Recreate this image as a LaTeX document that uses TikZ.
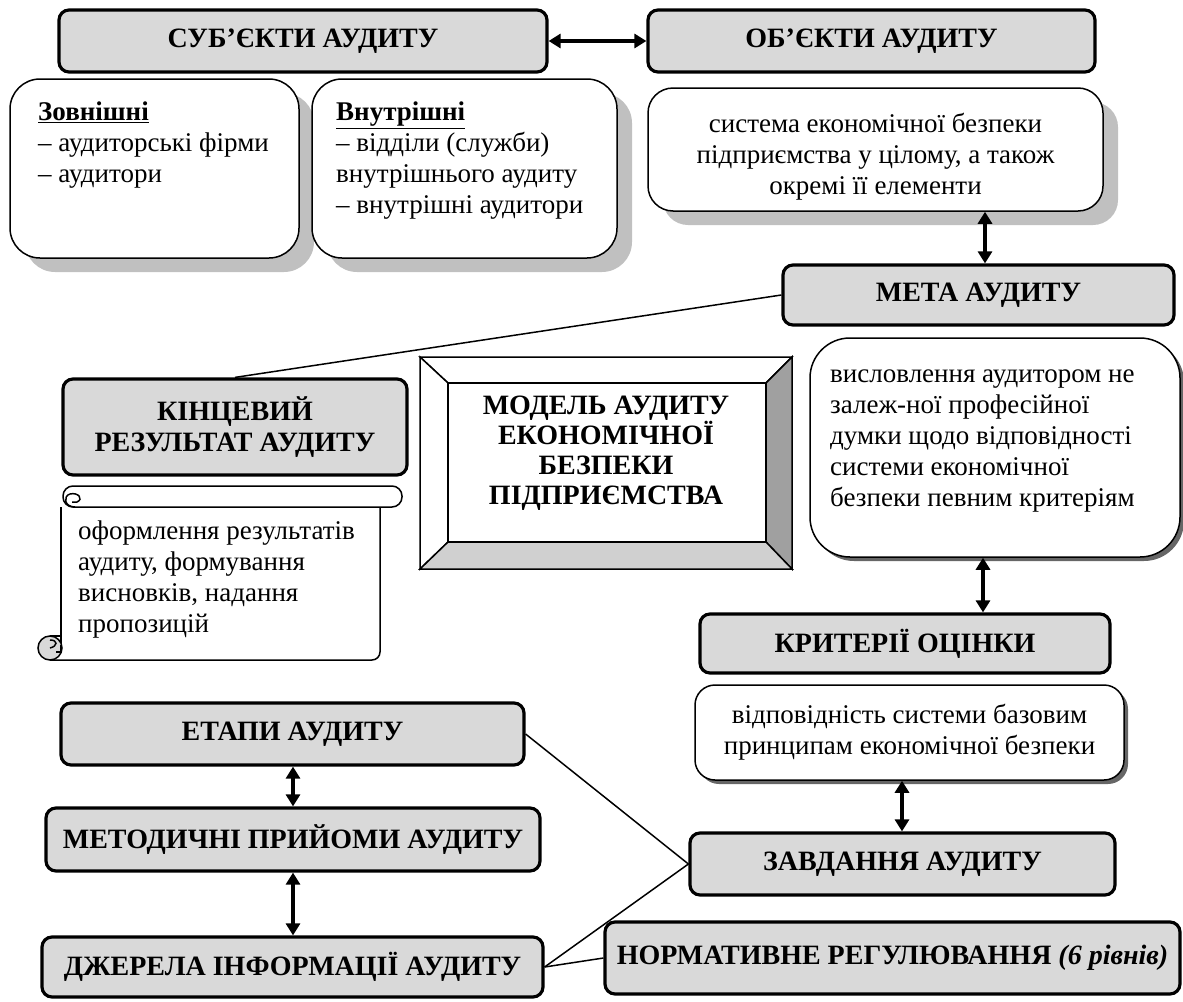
\documentclass[tikz,border=0pt]{standalone}
\usepackage{fontspec}
\setmainfont{Liberation Serif}[BoldFont={Liberation Serif Bold}, ItalicFont={Liberation Serif Italic}, BoldItalicFont={Liberation Serif Bold Italic}]
\usetikzlibrary{shadows,arrows.meta,calc}
\definecolor{hgray}{HTML}{D9D9D9}
\definecolor{shgray}{HTML}{C0C0C0}
\definecolor{bevR}{HTML}{A0A0A0}
\definecolor{bevB}{HTML}{D0D0D0}
\begin{document}
\begin{tikzpicture}[x=1pt,y=-1pt,
  every node/.style={font=\fontsize{27}{31}\selectfont},
  hbox/.style={draw, line width=3.2pt, fill=hgray, rounded corners=10pt, align=center, inner sep=0pt, font=\fontsize{28}{31}\selectfont\bfseries},
  wbox/.style={draw, line width=1.5pt, fill=white, inner sep=0pt},
  bigshadow/.style={drop shadow={shadow xshift=15pt, shadow yshift=-14pt, opacity=1, fill=shgray}},
  smallshadow/.style={drop shadow={shadow xshift=4pt, shadow yshift=-4pt, opacity=1, fill=black!60}},
  txt/.style={align=left, inner sep=0pt},
  ctxt/.style={align=center, inner sep=0pt},
  dbl/.style={{Triangle[length=12pt,width=14pt]}-{Triangle[length=12pt,width=14pt]}, line width=3.5pt},
  conn/.style={line width=1.5pt},
  sc/.style={line width=1.5pt}
]
\useasboundingbox (0,0) rectangle (1183,1001);

% top row
\node[hbox, minimum width=488pt, minimum height=62pt] (sub) at (303,41) {СУБ’ЄКТИ АУДИТУ};
\node[hbox, minimum width=447pt, minimum height=62pt] (ob) at (871.5,41) {ОБ’ЄКТИ АУДИТУ};
\draw[dbl] (sub.east) -- (ob.west);

% subjects
\node[wbox, bigshadow, rounded corners=30pt, minimum width=289pt, minimum height=179pt] (zovn) at (154.5,168.5) {};
\node[txt, anchor=west] (zovnt) at (38,145) {\underline{\textbf{Зовнішні}}\\– аудиторські фірми\\– аудитори};
\node[wbox, bigshadow, rounded corners=30pt, minimum width=305pt, minimum height=179pt] (vnut) at (464.5,168.5) {};
\node[txt, anchor=west] (vnutt) at (336,161) {\underline{\textbf{Внутрішні}}\\– відділи (служби)\\внутрішнього аудиту\\– внутрішні аудитори};

% objects
\node[wbox, bigshadow, rounded corners=25pt, minimum width=455pt, minimum height=123pt] (obj) at (875.5,149.5) {};
\node[ctxt] (objt) at (875.5,157) {система економічної безпеки\\підприємства у цілому, а також\\окремі її елементи};

% meta
\node[hbox, minimum width=391pt, minimum height=60pt] (meta) at (978.5,295) {МЕТА АУДИТУ};
\coordinate (ax1) at (985,0);
\draw[dbl] (ax1 |- obj.south) -- (ax1 |- meta.north);

\node[wbox, smallshadow, rounded corners=40pt, minimum width=370pt, minimum height=219pt] (mtxt) at (995,447.5) {};
\node[txt, anchor=west] (mtxtt) at (830,441) {висловлення аудитором не\\залеж-ної професійної\\думки щодо відповідності\\системи економічної\\безпеки певним критеріям};

% final result
\node[hbox, minimum width=344pt, minimum height=96pt] (kin) at (235,427) {КІНЦЕВИЙ\\РЕЗУЛЬТАТ АУДИТУ};
\draw[conn] (meta.west) -- (kin.north);

% scroll
\draw[sc, rounded corners=8pt] (380,507) -- (380,660) -- (50,660);
\draw[sc] (61,507) -- (61,648);
\draw[sc, fill=white, rounded corners=10pt] (63,486) rectangle (402,507);
\draw[sc] (75,507) .. controls (64,507) and (63,496) .. (70,494) .. controls (78,492) and (84,499) .. (77,502) -- (72,502);
\draw[sc, fill=hgray] (50,648) circle[radius=12pt];
\draw[sc] (50,636) -- (61,636);
\draw[sc] (50,648) .. controls (58,646) and (58,640) .. (50,640);
\draw[sc] (56,652) -- (61,652) -- (61,645);
\node[txt, anchor=west] (scrt) at (78,579) {оформлення результатів\\аудиту, формування\\висновків, надання\\пропозицій};

% bevel
\coordinate (bo1) at (420,357); \coordinate (bo2) at (792,357);
\coordinate (bo3) at (792,569); \coordinate (bo4) at (420,569);
\coordinate (bi1) at (448,383); \coordinate (bi2) at (766,383);
\coordinate (bi3) at (766,542); \coordinate (bi4) at (448,542);
\draw[sc, fill=white] (bo1) -- (bo2) -- (bi2) -- (bi1) -- cycle;
\draw[sc, fill=white] (bo1) -- (bi1) -- (bi4) -- (bo4) -- cycle;
\draw[sc, fill=bevR] (bo2) -- (bo3) -- (bi3) -- (bi2) -- cycle;
\draw[sc, fill=bevB] (bo4) -- (bi4) -- (bi3) -- (bo3) -- cycle;
\draw[sc, fill=white] (bi1) rectangle (bi3);
\node[ctxt, font=\fontsize{28}{30}\selectfont\bfseries] (model) at (606,453) {МОДЕЛЬ АУДИТУ\\ЕКОНОМІЧНОЇ\\БЕЗПЕКИ\\ПІДПРИЄМСТВА};

% criteria
\node[hbox, minimum width=410pt, minimum height=59pt] (krit) at (905,643.5) {КРИТЕРІЇ ОЦІНКИ};
\coordinate (ax2) at (983,0);
\draw[dbl] (ax2 |- mtxt.south) -- (ax2 |- krit.north);
\node[wbox, smallshadow, rounded corners=20pt, minimum width=429pt, minimum height=95pt, align=center] (vidp) at (909.5,732.5) {відповідність системи базовим\\принципам економічної безпеки};

% tasks
\node[hbox, minimum width=425pt, minimum height=62pt] (zavd) at (902.5,864) {ЗАВДАННЯ АУДИТУ};
\coordinate (ax3) at (902,0);
\draw[dbl] (ax3 |- vidp.south) -- (ax3 |- zavd.north);
\node[hbox, minimum width=575pt, minimum height=72pt] (norm) at (892.5,958) {НОРМАТИВНЕ РЕГУЛЮВАННЯ \textit{(6 рівнів)}};

% left column
\node[hbox, minimum width=463pt, minimum height=62pt] (etap) at (292.5,734) {ЕТАПИ АУДИТУ};
\node[hbox, minimum width=494pt, minimum height=63pt] (metod) at (293,839.5) {МЕТОДИЧНІ ПРИЙОМИ АУДИТУ};
\node[hbox, minimum width=501pt, minimum height=60pt] (dzh) at (292.5,967) {ДЖЕРЕЛА ІНФОРМАЦІЇ АУДИТУ};
\coordinate (ax4) at (293,0);
\draw[dbl] (ax4 |- etap.south) -- (ax4 |- metod.north);
\draw[dbl] (ax4 |- metod.south) -- (ax4 |- dzh.north);

\draw[conn] (etap.east) -- (zavd.west);
\draw[conn] (dzh.east) -- (zavd.west);
\draw[conn] (dzh.east) -- (norm.west);
\end{tikzpicture}
\end{document}
